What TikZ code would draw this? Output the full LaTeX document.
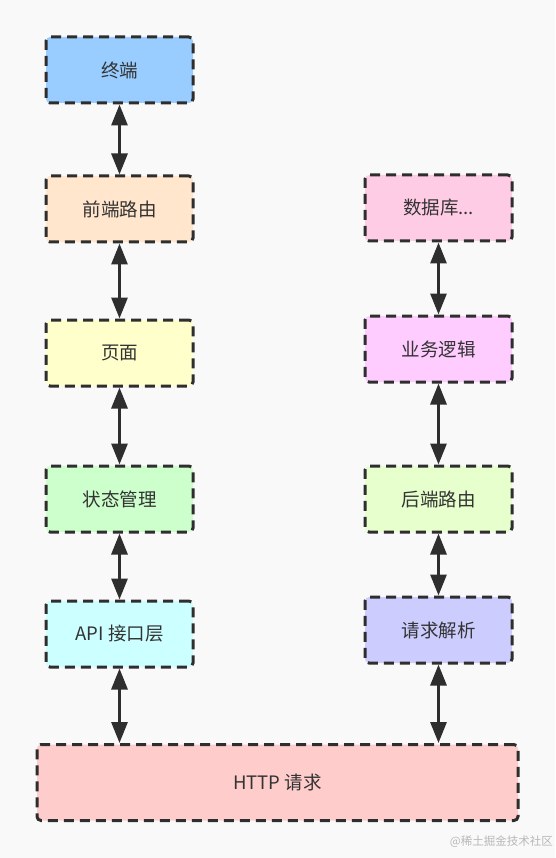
\documentclass[tikz,border=0pt]{standalone}
\usepackage{fontspec}
\setmainfont{Noto Sans CJK SC}
\usetikzlibrary{arrows.meta}
\definecolor{bg}{HTML}{F9F9F9}
\definecolor{ink}{HTML}{2E2E2E}
\definecolor{txt}{HTML}{333333}
\definecolor{cA}{HTML}{99CCFF}
\definecolor{cB}{HTML}{FFE6CC}
\definecolor{cC}{HTML}{FFFFCC}
\definecolor{cD}{HTML}{CCFFCC}
\definecolor{cE}{HTML}{CCFFFF}
\definecolor{cF}{HTML}{FFCCCC}
\definecolor{cG}{HTML}{FFCCE6}
\definecolor{cH}{HTML}{FFCCFF}
\definecolor{cI}{HTML}{E6FFCC}
\definecolor{cJ}{HTML}{CCCCFF}
\definecolor{wm}{HTML}{B8B8B8}
\begin{document}
\begin{tikzpicture}[x=1pt,y=-1pt,
  box/.style={draw=ink,line width=3pt,dash pattern=on 10pt off 6pt,rounded corners=4pt,inner sep=0pt,text=txt,font=\fontsize{18.5}{21}\selectfont,minimum width=147pt,minimum height=66pt},
  link/.style={draw=ink,line width=3pt,{Triangle[width=16pt,length=21pt]}-{Triangle[width=16pt,length=21pt]}}]
\fill[bg] (0,0) rectangle (555,858);
\useasboundingbox (0,0) rectangle (555,858);
% left column
\node[box,fill=cA] (term) at (119.5,70) {终端};
\node[box,fill=cB] (froute) at (119.5,209) {前端路由};
\node[box,fill=cC] (page) at (119.5,353) {页面};
\node[box,fill=cD] (state) at (119.5,499) {状态管理};
\node[box,fill=cE] (api) at (119.5,634) {API 接口层};
% right column
\node[box,fill=cG] (db) at (438.5,208) {数据库...};
\node[box,fill=cH] (logic) at (438.5,349) {业务逻辑};
\node[box,fill=cI] (broute) at (438.5,499) {后端路由};
\node[box,fill=cJ] (parse) at (438.5,630) {请求解析};
% bottom
\node[box,fill=cF,minimum width=481pt,minimum height=76pt] (http) at (277.5,782.5) {HTTP 请求};
% links
\draw[link] (term.south) -- (froute.north);
\draw[link] (froute.south) -- (page.north);
\draw[link] (page.south) -- (state.north);
\draw[link] (state.south) -- (api.north);
\draw[link] (api.south) -- (api.south |- http.north);
\draw[link] (db.south) -- (logic.north);
\draw[link] (logic.south) -- (broute.north);
\draw[link] (broute.south) -- (parse.north);
\draw[link] (parse.south) -- (parse.south |- http.north);
% watermark
\node[text=wm,font=\fontsize{11.5}{13}\selectfont,anchor=east,inner sep=0pt] (mark) at (553,842) {@稀土掘金技术社区};
\end{tikzpicture}
\end{document}
